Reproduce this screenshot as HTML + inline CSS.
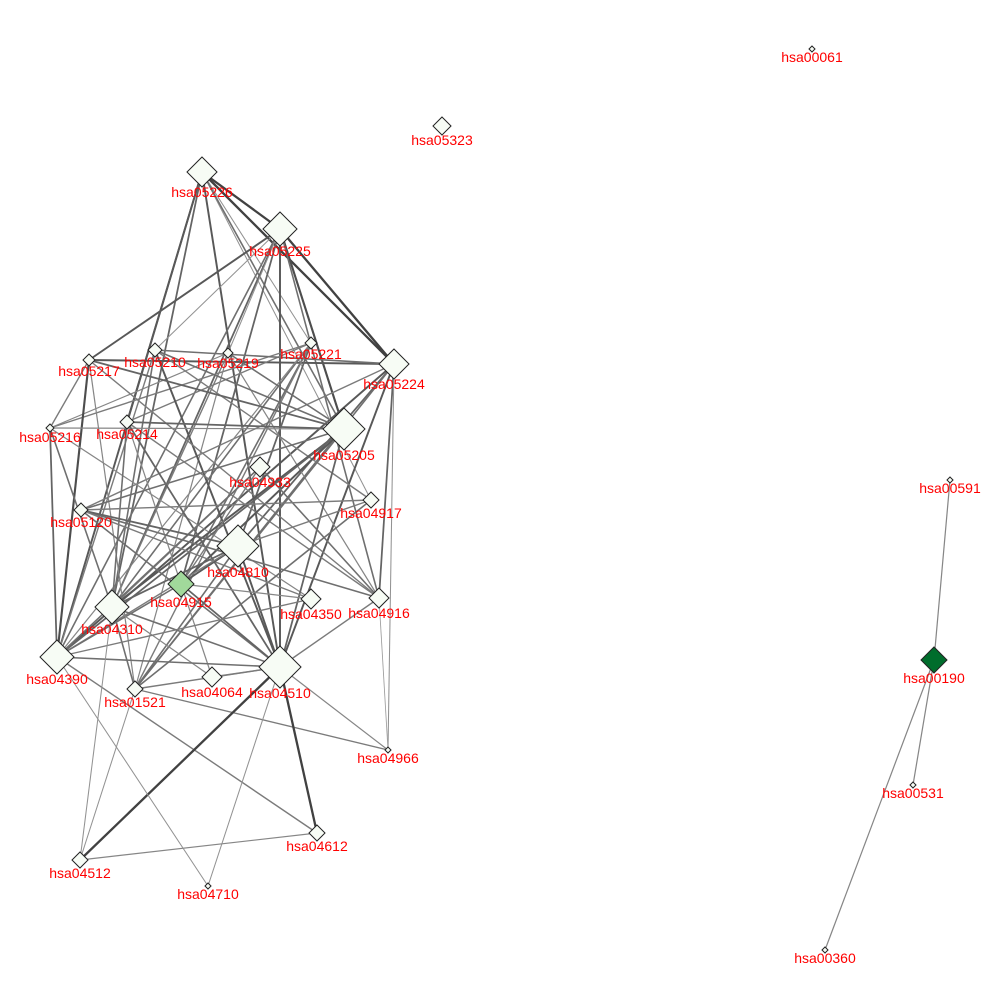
<!DOCTYPE html>
<html><head><meta charset="utf-8">
<style>
html,body{margin:0;padding:0;background:#fff;}
svg{display:block;}
text{font-family:"Liberation Sans",sans-serif;font-size:14px;fill:#ff0000;}
</style></head>
<body>
<svg id="chart" width="1000" height="1000" viewBox="0 0 1000 1000">
<g id="edges"></g>
<g id="nodes"></g>
<g id="labels"></g>
</svg>
<script>
const nodeIds=["hsa00061","hsa05323","hsa05226","hsa05225","hsa05217","hsa05210","hsa05219","hsa05221","hsa05224","hsa05216","hsa05214","hsa05205","hsa04933","hsa04917","hsa05120","hsa04810","hsa04915","hsa04310","hsa04350","hsa04916","hsa04390","hsa01521","hsa04064","hsa04510","hsa04966","hsa04612","hsa04512","hsa04710","hsa00591","hsa00190","hsa00531","hsa00360"];
const nodeX=[812,442,202,280,89,155,228,311,394,50,127,344,260,371,81,238,181,112,311,379,57,135,212,280,388,317,80,208,950,934,913,825];
const nodeY=[49,126,172,229,360,350,353,343,364,428,422,429,467,500,510,546,584,607,599,598,657,689,677,667,750,833,860,886,480,660,785,950];
const nodeSize=[3,9,15,17,6,7,5,6,15,4,7,21,10,8,7,21,13,17,10,10,17,8,10,21,3,8,8,3,3,13,3,3];
const nodeFill=["#f7fcf5","#f7fcf5","#f7fcf5","#f7fcf5","#f7fcf5","#f7fcf5","#f7fcf5","#f7fcf5","#f7fcf5","#f7fcf5","#f7fcf5","#f7fcf5","#f7fcf5","#f7fcf5","#f7fcf5","#f7fcf5","#a1d99b","#f7fcf5","#f7fcf5","#f7fcf5","#f7fcf5","#f7fcf5","#f7fcf5","#f7fcf5","#f7fcf5","#f7fcf5","#f7fcf5","#f7fcf5","#f7fcf5","#006d2c","#f7fcf5","#f7fcf5"];
const edgeSrc=["hsa05226","hsa05226","hsa05226","hsa05226","hsa05226","hsa05226","hsa05226","hsa05226","hsa05226","hsa05225","hsa05225","hsa05225","hsa05225","hsa05225","hsa05225","hsa05225","hsa05225","hsa05225","hsa05225","hsa05224","hsa05224","hsa05224","hsa05224","hsa05224","hsa05224","hsa05224","hsa05224","hsa05221","hsa05221","hsa05221","hsa05221","hsa05221","hsa05221","hsa05221","hsa05219","hsa05219","hsa05219","hsa05219","hsa05219","hsa05210","hsa05210","hsa05210","hsa05210","hsa05210","hsa05210","hsa05217","hsa05217","hsa05217","hsa05217","hsa05217","hsa05216","hsa05216","hsa05216","hsa05216","hsa05214","hsa05214","hsa05214","hsa05214","hsa05214","hsa05205","hsa05205","hsa05205","hsa05205","hsa05205","hsa05205","hsa04933","hsa04933","hsa04933","hsa04933","hsa04917","hsa04917","hsa04917","hsa05120","hsa05120","hsa05120","hsa05120","hsa04810","hsa04810","hsa04810","hsa04810","hsa04810","hsa04915","hsa04915","hsa04915","hsa04310","hsa04310","hsa04310","hsa04350","hsa04916","hsa04390","hsa04390","hsa01521","hsa01521","hsa04064","hsa04512","hsa04512","hsa04512","hsa04512","hsa04710","hsa04710","hsa04612","hsa04966","hsa04966","hsa00591","hsa00190","hsa00190"];
const edgeTgt=["hsa05225","hsa05224","hsa05214","hsa04390","hsa04310","hsa05221","hsa04510","hsa04917","hsa05205","hsa05224","hsa05217","hsa04310","hsa05205","hsa04510","hsa05210","hsa04916","hsa04390","hsa04915","hsa05219","hsa05217","hsa04390","hsa04510","hsa05120","hsa04916","hsa04810","hsa01521","hsa04966","hsa05216","hsa04310","hsa04915","hsa04810","hsa05214","hsa04390","hsa01521","hsa05216","hsa04916","hsa04310","hsa05205","hsa01521","hsa05224","hsa04510","hsa04310","hsa04917","hsa05205","hsa04390","hsa05216","hsa04390","hsa05205","hsa04916","hsa01521","hsa04390","hsa04350","hsa05205","hsa04310","hsa05205","hsa04510","hsa04310","hsa04916","hsa04064","hsa04915","hsa04310","hsa04390","hsa05120","hsa01521","hsa04510","hsa04915","hsa04916","hsa04310","hsa04390","hsa05120","hsa04810","hsa01521","hsa04916","hsa04510","hsa04810","hsa04350","hsa04915","hsa04510","hsa04310","hsa01521","hsa04390","hsa04510","hsa04390","hsa04350","hsa04510","hsa04064","hsa01521","hsa04390","hsa04510","hsa04510","hsa04612","hsa04510","hsa04966","hsa04510","hsa04510","hsa04612","hsa01521","hsa04310","hsa04510","hsa04390","hsa04510","hsa04510","hsa04916","hsa00190","hsa00531","hsa00360"];
const edgeW=[1,1,0.8,0.8,0.7,0.3,0.8,0.3,0.6,1,0.8,0.7,0.9,0.8,0.3,0.6,0.6,0.7,0.3,0.8,0.8,0.8,0.5,0.7,0.7,0.6,0.3,0.5,0.6,0.6,0.7,0.5,0.4,0.5,0.4,0.4,0.5,0.6,0.4,0.6,0.8,0.6,0.5,0.6,0.5,0.5,0.9,0.7,0.5,0.4,0.7,0.4,0.4,0.6,0.7,0.7,0.6,0.5,0.4,0.8,0.8,0.7,0.6,0.6,0.7,0.5,0.6,0.5,0.6,0.5,0.5,0.6,0.6,0.6,0.7,0.5,0.8,0.8,0.7,0.6,0.5,0.7,0.6,0.4,0.6,0.4,0.6,0.5,0.5,0.6,0.5,0.5,0.5,0.5,1,0.4,0.3,0.3,0.3,0.3,1,0.4,0.2,0.4,0.4,0.4];
const NS="http://www.w3.org/2000/svg";
const idx=id=>nodeIds.indexOf(id);
const gE=document.getElementById('edges'),gN=document.getElementById('nodes'),gL=document.getElementById('labels');
for(let i=0;i<edgeSrc.length;i++){
  const a=idx(edgeSrc[i]),b=idx(edgeTgt[i]);if(a<0||b<0)continue;
  const w=edgeW[i];
  const l=document.createElementNS(NS,'line');
  l.setAttribute('x1',nodeX[a]);l.setAttribute('y1',nodeY[a]);
  l.setAttribute('x2',nodeX[b]);l.setAttribute('y2',nodeY[b]);
  const g=Math.round(180-w*115);
  l.setAttribute('stroke',`rgb(${g},${g},${g})`);
  l.setAttribute('stroke-width',(0.5+w*1.8).toFixed(2));
  
  
  gE.appendChild(l);
}
for(let i=0;i<nodeIds.length;i++){
  const x=nodeX[i],y=nodeY[i],s=nodeSize[i];
  const p=document.createElementNS(NS,'polygon');
  p.setAttribute('points',`${x},${y-s} ${x+s},${y} ${x},${y+s} ${x-s},${y}`);
  p.setAttribute('fill',nodeFill[i]);p.setAttribute('stroke','#222');p.setAttribute('stroke-width','1');
  
  
  gN.appendChild(p);
  const t=document.createElementNS(NS,'text');
  t.setAttribute('x',x);t.setAttribute('y',y+s+10);t.setAttribute('text-anchor','middle');
  t.textContent=nodeIds[i];
  
  
  gL.appendChild(t);
}
</script>
</body></html>
